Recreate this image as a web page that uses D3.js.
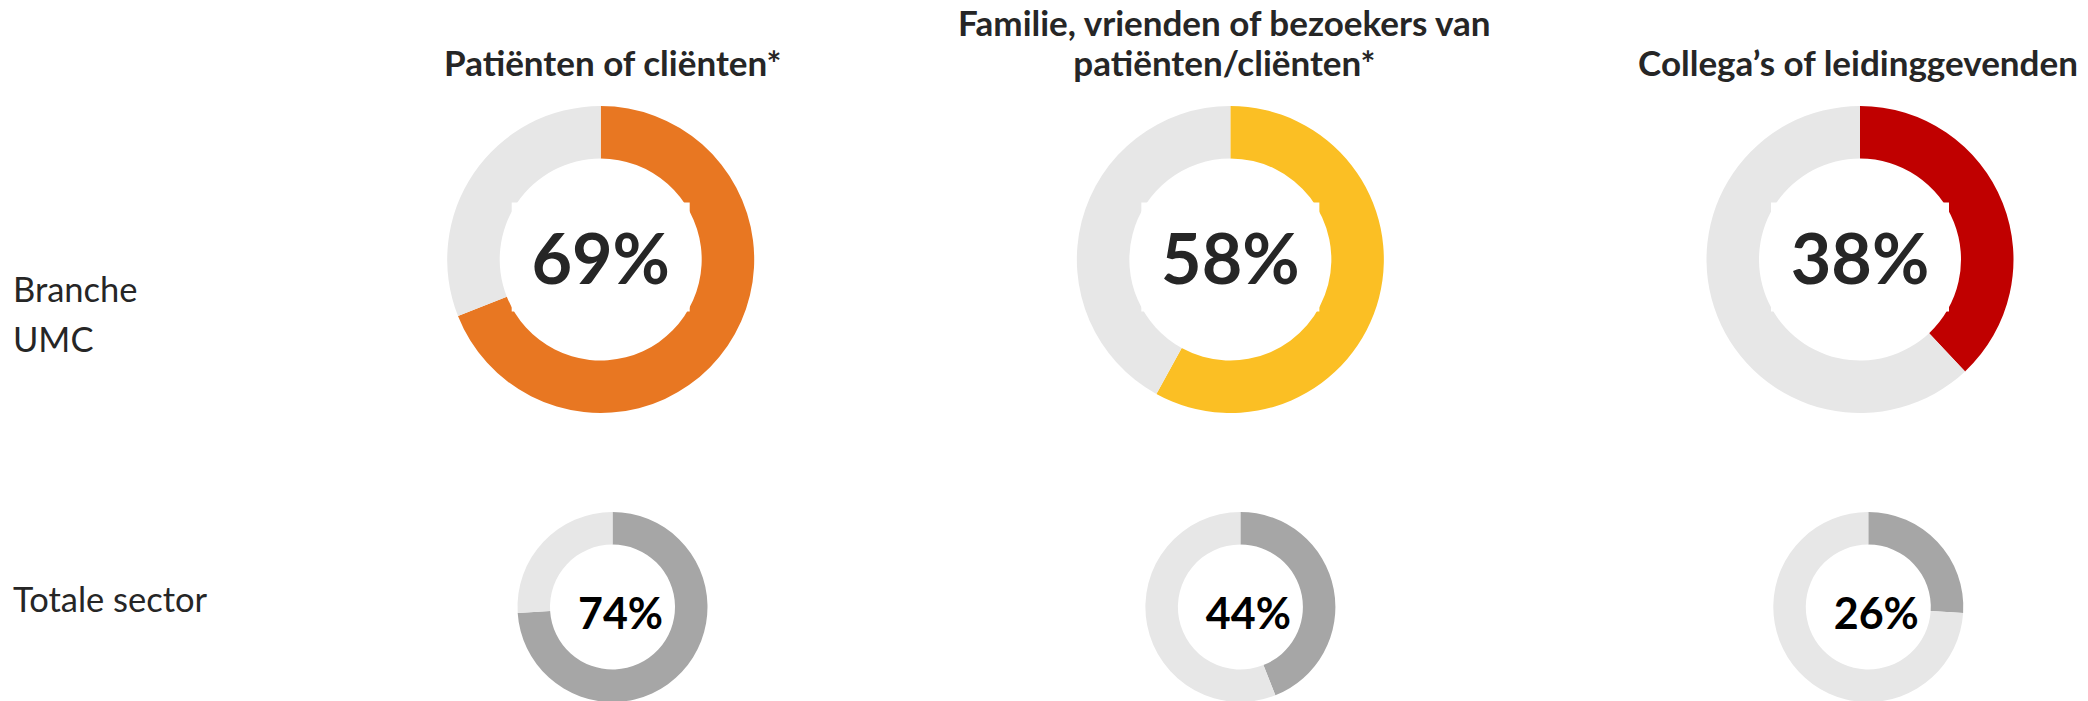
<html>
<head>
	<meta http-equiv="Content-Type" content="text/html; charset=utf-8" />
	<script src="https://cdn.jsdelivr.net/npm/d3@7/dist/d3.min.js" charset="utf-8"></script>

	<style type="text/css">
	body {
	  background-color: #fff;
	  margin: 0;
	}
	svg text {
	  font-family: Lato, "Open Sans", sans-serif;
	}
	</style>
</head>
<body>

	<svg width="2088" height="701" version="1.1" xmlns="http://www.w3.org/2000/svg">
	</svg>

	<script type="text/javascript">
		// data
		var v_Categories = ["Patiënten of cliënten*", "Familie, vrienden of bezoekers van patiënten/cliënten*", "Collega’s of leidinggevenden"];
		var v_TitleLines = [["Patiënten of cliënten*"], ["Familie, vrienden of bezoekers van", "patiënten/cliënten*"], ["Collega’s of leidinggevenden"]];
		var v_RowLabels  = [["Branche", "UMC"], ["Totale sector"]];
		var v_UmcValues  = [69, 58, 38];
		var v_TotalValues = [74, 44, 26];
		var v_UmcColors  = ["#E87722", "#FBBF24", "#C00000"];

		var v_Rest       = "#E7E7E7";
		var v_TotalColor = "#A6A6A6";
		var v_TextColor  = "#262626";

		var v_SVG = d3.select("svg");

		// x positions of the columns
		var v_xBig   = d3.scalePoint().domain(v_Categories).range([600.7, 1860]);
		var v_xSmall = d3.scalePoint().domain(v_Categories).range([612.5, 1868.3]);
		var v_TitleDx = [12, -6, -2];

		var v_Pie = d3.pie().sort(null).value(function(d) { return d; });

		/**
		 * i_Values  percentages
		 * i_xScale  column scale
		 * i_Cy      centre y
		 * i_Outer / i_Inner radius
		 * i_Colors  colour of the filled part, one per column
		 */
		function f_DrawDonuts(i_Name, i_Values, i_xScale, i_Cy, i_Outer, i_Inner, i_Colors)
		{
			var v_Arc = d3.arc().innerRadius(i_Inner).outerRadius(i_Outer);

			var v_G = v_SVG.selectAll("." + i_Name)
				.data(i_Values)
				.enter().append("g")
				.attr("class", i_Name)
				.attr("transform", function(d, i) { return "translate(" + i_xScale(v_Categories[i]) + "," + i_Cy + ")"; });

			v_G.selectAll("path")
				.data(function(d, i) {
					return v_Pie([d, 100 - d]).map(function(a, j) { a.col = j == 0 ? i_Colors(i) : v_Rest; return a; });
				})
				.enter().append("path")
				.attr("d", v_Arc)
				.attr("fill", function(d) { return d.col; });

			return v_G;
		}

		// upper row
		var v_Big = f_DrawDonuts("big", v_UmcValues, v_xBig, 259.5, 153.5, 101, function(i) { return v_UmcColors[i]; });

		// white label box (cuts small notches in the ring like the original)
		v_Big.append("rect")
			.attr("x", -89).attr("y", -57)
			.attr("width", 178).attr("height", 109)
			.attr("fill", "#fff");

		v_Big.append("text")
			.attr("text-anchor", "middle")
			.attr("y", 24)
			.attr("font-size", "70px")
			.attr("font-weight", "bold")
			.attr("fill", v_TextColor)
			.text(function(d) { return d + "%"; });

		// lower row
		var v_Small = f_DrawDonuts("small", v_TotalValues, v_xSmall, 607, 95, 62.5, function() { return v_TotalColor; });

		v_Small.append("text")
			.attr("text-anchor", "middle")
			.attr("x", 8)
			.attr("y", 21.5)
			.attr("font-size", "43px")
			.attr("font-weight", "bold")
			.attr("fill", "#000")
			.text(function(d) { return d + "%"; });

		// titles
		v_SVG.selectAll(".title")
			.data(v_TitleLines)
			.enter().append("text")
			.attr("class", "title")
			.attr("text-anchor", "middle")
			.attr("font-size", "35px")
			.attr("font-weight", "bold")
			.attr("fill", v_TextColor)
			.attr("x", function(d, i) { return v_xBig(v_Categories[i]) + v_TitleDx[i]; })
			.attr("y", function(d) { return 76 - (d.length - 1) * 40; })
			.selectAll("tspan")
			.data(function(d) { return d; })
			.enter().append("tspan")
			.attr("x", function() { return d3.select(this.parentNode).attr("x"); })
			.attr("dy", function(d, i) { return i == 0 ? 0 : 40; })
			.text(function(d) { return d; });

		// row labels
		var v_RowY = [301.7, 611.7];
		v_SVG.selectAll(".row")
			.data(v_RowLabels)
			.enter().append("text")
			.attr("class", "row")
			.attr("x", 13)
			.attr("y", function(d, i) { return v_RowY[i]; })
			.attr("font-size", "34.5px")
			.attr("fill", v_TextColor)
			.selectAll("tspan")
			.data(function(d) { return d; })
			.enter().append("tspan")
			.attr("x", 13)
			.attr("dy", function(d, i) { return i == 0 ? 0 : 50.6; })
			.text(function(d) { return d; });
	</script>

</body>
</html>
